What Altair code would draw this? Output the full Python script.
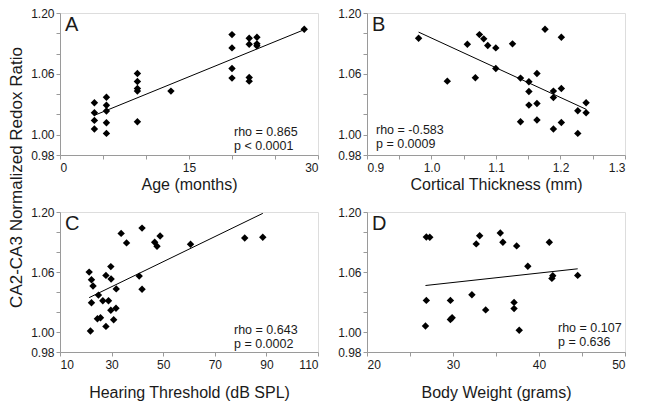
import json
import altair as alt
import pandas as pd

# ---------------- data ----------------
age_months = [4, 4, 4, 4, 5.4, 5.4, 5.4, 5.4, 5.4, 9, 9, 9, 9, 9, 12.9,
              20, 20, 20, 20, 22, 22, 22, 22, 22.9, 22.9, 22.9, 28.4]
ratio_age = [1.0315, 1.0217, 1.0141, 1.0056, 1.037, 1.029, 1.0233, 1.0118, 1.0013,
             1.0604, 1.0525, 1.0456, 1.043, 1.0128, 1.043,
             1.0987, 1.0856, 1.0653, 1.0558, 1.0951, 1.0892, 1.0564, 1.0528,
             1.0961, 1.0896, 1.0876, 1.104]

thickness_mm = [0.98, 1.0245, 1.0556, 1.068, 1.0743, 1.081, 1.0872, 1.0997, 1.0997,
                1.1256, 1.138, 1.138, 1.151, 1.151, 1.151, 1.1635, 1.1635, 1.1635,
                1.176, 1.189, 1.189, 1.189, 1.2013, 1.2013, 1.2013, 1.2268, 1.2268,
                1.2397, 1.2397]
ratio_thick = [1.0951, 1.0528, 1.0892, 1.0561, 1.0987, 1.0945, 1.0879, 1.0856, 1.0653,
               1.0896, 1.0558, 1.0128, 1.0522, 1.0426, 1.0292, 1.0604, 1.0308, 1.0145,
               1.104, 1.043, 1.0367, 1.0056, 1.0961, 1.0456, 1.0121, 1.0236, 1.0013,
               1.0315, 1.0217]

hearing_db = [21.3, 22.2, 22.8, 22.2, 21.8, 24.9, 24.5, 25.7, 26.6, 27.8, 27.8, 28.8,
              29.7, 29.8, 29.7, 31.7, 30.8, 31.8, 33.7, 35.8, 40.7, 41.8, 41.8, 46.7,
              47.6, 48.8, 60.6, 81.6, 88.6]
ratio_hear = [1.0599, 1.0523, 1.046, 1.0293, 1.001, 1.0369, 1.0132, 1.0142, 1.0313,
              1.0566, 1.0056, 1.0313, 1.0654, 1.053, 1.0217, 1.0237, 1.0122, 1.0431,
              1.0986, 1.0891, 1.0559, 1.1039, 1.0428, 1.0898, 1.0858, 1.096, 1.0878,
              1.094, 1.0947]

weight_g = [26.9, 27.3, 32.7, 33.1, 35.5, 35.8, 37.4, 41.2, 38.7, 41.6, 41.5, 44.5,
            26.9, 29.7, 32.2, 33.8, 37.1, 37.1, 29.7, 29.9, 26.8, 37.7]
ratio_weight = [1.095, 1.0947, 1.0881, 1.0963, 1.099, 1.0898, 1.0861, 1.0898, 1.0658,
                1.0562, 1.0536, 1.0566, 1.0316, 1.0316, 1.0372, 1.0221, 1.0296, 1.0234,
                1.0125, 1.0142, 1.006, 1.0017]

# axis ticks / labels
y_ticks = [0.98, 1.00, 1.02, 1.04, 1.06, 1.08, 1.10, 1.12]
y_tick_labels = ["0.98", "1.00", "", "", "1.06", "", "", "1.20"]

panel_letters = ["A", "B", "C", "D"]
x_titles = ["Age (months)", "Cortical Thickness (mm)",
            "Hearing Threshold (dB SPL)", "Body Weight (grams)"]
stats_text = ["rho = 0.865\np < 0.0001", "rho = -0.583\np = 0.0009",
              "rho = 0.643\np = 0.0002", "rho = 0.107\np = 0.636"]

x_domains = [[0, 30], [0.9, 1.3], [10, 110], [20, 50]]
x_tick_start = [0, 0.9, 10, 20]
x_tick_step = [5, 0.05, 20, 5]
x_tick_counts = [7, 9, 6, 7]
x_tick_labels = [
    ["0", "", "", "15", "", "", "30"],
    ["0.9", "", "1.0", "", "1.1", "", "1.2", "", "1.3"],
    ["10", "30", "50", "70", "90", "110"],
    ["20", "", "30", "", "40", "", "50"],
]
y_title = "CA2-CA3 Normalized Redox Ratio"

FONT = "Liberation Sans"
AXIS_GRAY = "#9a9a9a"
TEXT = "#1a1a1a"

W = 258
H_TOP = 142
H_BOT = 140


def label_expr(labels, start, step):
    return f"{json.dumps(labels)}[round((datum.value - ({start})) / ({step}))]"


def panel(i, xs, ys, height, stats_x, stats_y, title_pad, with_y_title):
    df = pd.DataFrame({"x": xs, "y": ys})
    xt = [round(x_tick_start[i] + k * x_tick_step[i], 4) for k in range(x_tick_counts[i])]
    xaxis = alt.Axis(
        values=xt,
        labelExpr=label_expr(x_tick_labels[i], x_tick_start[i], x_tick_step[i]),
        grid=False, tickSize=4, labelPadding=3, titlePadding=title_pad,
        domainColor=AXIS_GRAY, tickColor=AXIS_GRAY, labelColor=TEXT, titleColor=TEXT,
        labelFontSize=12, titleFontSize=16, titleFontWeight="normal",
        labelFont=FONT, titleFont=FONT, labelOverlap=False,
    )
    yaxis_kwargs = dict(
        values=y_ticks,
        labelExpr=label_expr(y_tick_labels, 0.98, 0.02),
        grid=False, tickSize=4, labelPadding=2,
        domainColor=AXIS_GRAY, tickColor=AXIS_GRAY, labelColor=TEXT, titleColor=TEXT,
        labelFontSize=12, labelFont=FONT, labelOverlap=False,
    )
    if with_y_title:
        yaxis = alt.Axis(title=y_title, titleFontSize=17, titleFont=FONT,
                         titleFontWeight="normal", titleX=-39, titleY=164,
                         titleAngle=270, titleAlign="center",
                         titleBaseline="alphabetic", **yaxis_kwargs)
    else:
        yaxis = alt.Axis(title=None, **yaxis_kwargs)

    xenc = alt.X("x:Q", scale=alt.Scale(domain=x_domains[i], nice=False, zero=False),
                 axis=xaxis, title=x_titles[i])
    yenc = alt.Y("y:Q", scale=alt.Scale(domain=[0.98, 1.12], nice=False, zero=False),
                 axis=yaxis)

    base = alt.Chart(df)
    pts = base.mark_point(shape="diamond", filled=True, color="black",
                          size=55, opacity=1).encode(x=xenc, y=yenc)
    reg = base.transform_regression("x", "y").mark_line(
        color="black", strokeWidth=1).encode(x=xenc, y=yenc)

    letter = alt.Chart(pd.DataFrame({"t": [panel_letters[i]]})).mark_text(
        font=FONT, fontSize=20, align="left", baseline="alphabetic", color=TEXT
    ).encode(text="t:N", x=alt.value(5), y=alt.value(18))

    stats = alt.Chart(pd.DataFrame({"t": [stats_text[i]]})).mark_text(
        font=FONT, fontSize=12.5, align="left", baseline="alphabetic", color=TEXT,
        lineBreak="\n", lineHeight=14
    ).encode(text="t:N", x=alt.value(stats_x), y=alt.value(height - stats_y))

    return alt.layer(reg, pts, letter, stats).properties(width=W, height=height)


pA = panel(0, age_months, ratio_age, H_TOP, 174, 19.5, 3, True)
pB = panel(1, thickness_mm, ratio_thick, H_TOP, 9, 21, 3, False)
pC = panel(2, hearing_db, ratio_hear, H_BOT, 174, 18, 14, False)
pD = panel(3, weight_g, ratio_weight, H_BOT, 191, 20, 14, False)

chart = alt.concat(pA, pB, pC, pD, columns=2,
                   spacing={"row": 57, "column": 49}, bounds="flush").properties(
    padding={"left": -2, "top": -2, "right": 0, "bottom": 0}
).configure_view(strokeWidth=0).configure(background="white")

chart.save("out.html", embed_options={"renderer": "svg", "actions": False})
